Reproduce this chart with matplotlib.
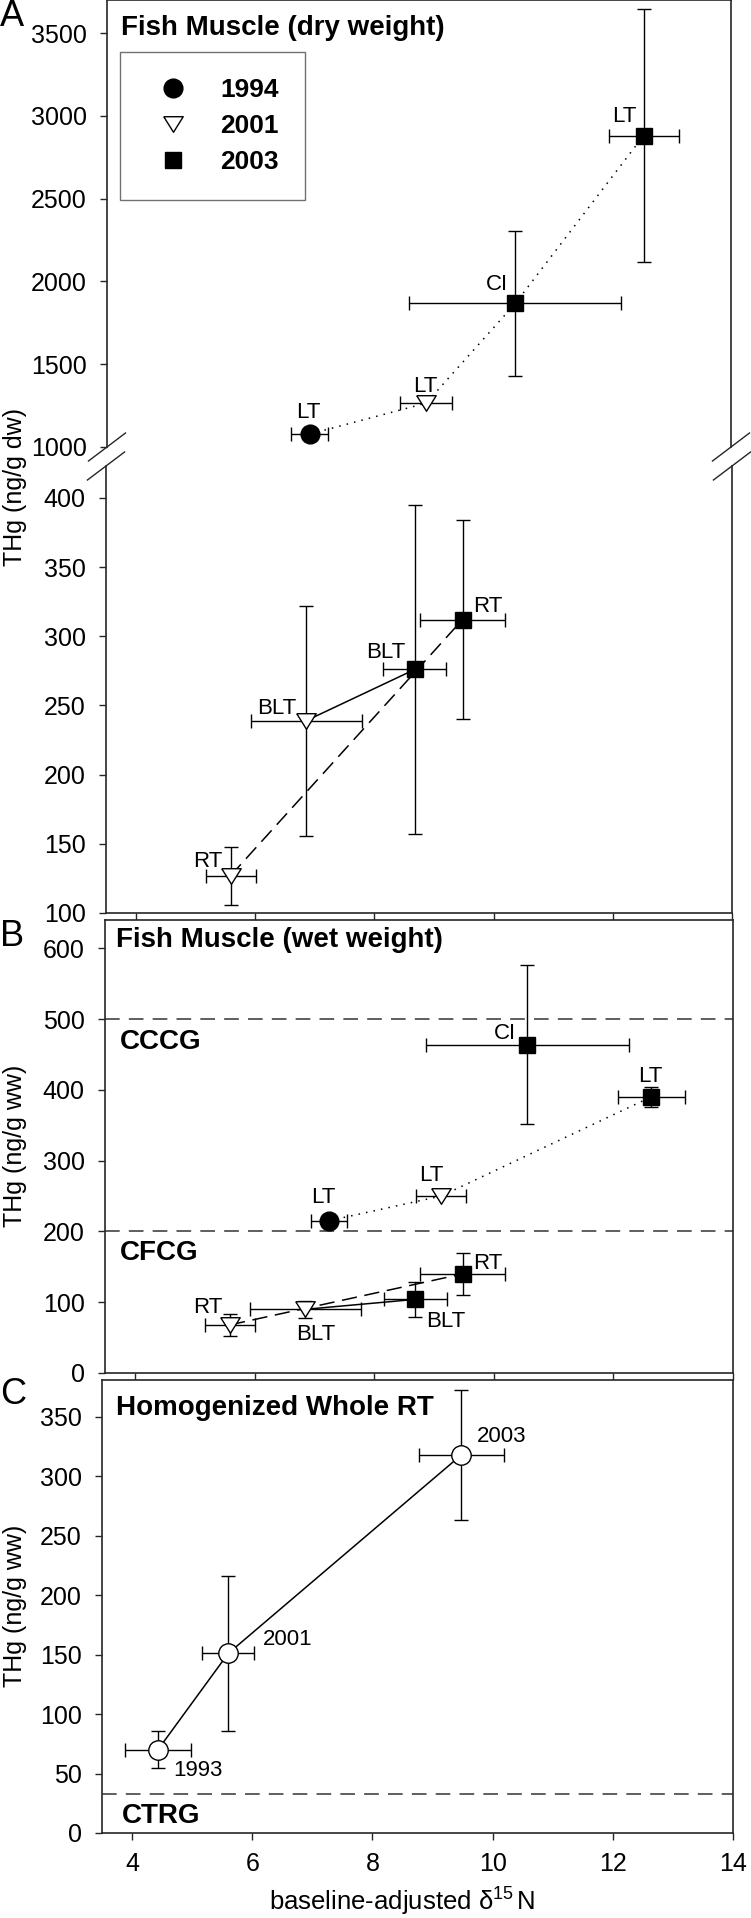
import numpy as np
import matplotlib
matplotlib.use('Agg')
import matplotlib.pyplot as plt

plt.rcParams['font.family'] = ['Liberation Sans', 'DejaVu Sans']
plt.rcParams['mathtext.fontset'] = 'custom'
plt.rcParams['mathtext.rm'] = 'Liberation Sans'
plt.rcParams['mathtext.it'] = 'Liberation Sans:italic'

nan = np.nan

# A: fish muscle, dry weight (upper part of broken axis)
a_up_x = [6.91, 8.87, 10.37, 12.53]
a_up_y = [1078, 1265, 1867, 2881]
a_up_xerr = [0.31, 0.44, 1.78, 0.59]
a_up_yerr = [nan, nan, 440, 762]
a_up_year = ['1994', '2001', '2003', '2003']
a_up_lab = ['LT', 'LT', 'CI', 'LT']

# A: lower part of broken axis
a_lo_x = [5.59, 6.86, 8.68, 9.48]
a_lo_y = [127, 239, 276, 312]
a_lo_xerr = [0.42, 0.93, 0.53, 0.71]
a_lo_yerr = [21, 83, 119, 72]
a_lo_year = ['2001', '2001', '2003', '2003']
a_lo_lab = ['RT', 'BLT', 'BLT', 'RT']

# B: fish muscle, wet weight
b_x = [7.24, 9.12, 10.56, 12.63, 5.59, 6.85, 8.69, 9.48]
b_y = [215, 250, 464, 390, 68, 90, 104, 140]
b_xerr = [0.30, 0.42, 1.70, 0.56, 0.42, 0.93, 0.52, 0.71]
b_yerr = [nan, nan, 112, 14, 16, 12, 25, 30]
b_year = ['1994', '2001', '2003', '2003', '2001', '2001', '2003', '2003']
b_lab = ['LT', 'LT', 'CI', 'LT', 'RT', 'BLT', 'BLT', 'RT']
b_guides = [500, 200]
b_guide_names = ['CCCG', 'CFCG']

# C: homogenized whole RT
c_x = [4.43, 5.60, 9.48]
c_y = [70, 151, 318]
c_xerr = [0.55, 0.43, 0.71]
c_yerr = [15.5, 65, 55]
c_lab = ['1993', '2001', '2003']
c_guide = 33
c_guide_name = 'CTRG'

years = ['1994', '2001', '2003']
x_ticks = [4, 6, 8, 10, 12, 14]

# label offsets (points)
a_up_off = [(-0.7, 15.8), (-0.7, 12.2), (-13, 13.7), (-13.7, 13.7)]
a_lo_off = [(-16.6, 10), (-21, 8.6), (-21, 12.2), (18.4, 9.4)]
b_off = [(-3.6, 16.6), (-7.2, 15), (-15.8, 8), (-0.7, 15), (-15.8, 12.2),
         (7.2, -18), (21.6, -15.8), (18, 7.2)]
c_off = [(28.8, -15), (42.5, 10), (28.8, 13)]

tri = [(-1, 0.8), (1, 0.8), (0, -0.8), (-1, 0.8)]
yr_style = {'1994': ('o', 'black', 13.5),
            '2001': (tri, 'white', 14),
            '2003': ('s', 'black', 12),
            'open': ('o', 'white', 14)}

W, H = 751, 1918
fig = plt.figure(figsize=(W / 100, H / 100), dpi=100)


def rect(l, t, r, b):
    return [l / W, 1 - b / H, (r - l) / W, (b - t) / H]


ax_a1 = fig.add_axes(rect(107, 0, 731, 447))
ax_a2 = fig.add_axes(rect(106, 466, 732, 913))
ax_b = fig.add_axes(rect(105, 920, 733, 1373))
ax_c = fig.add_axes(rect(102, 1380, 733, 1833))

for ax in [ax_a1, ax_a2, ax_b, ax_c]:
    for s in ax.spines.values():
        s.set_color('0.15')
        s.set_linewidth(1.2)
    ax.set_xlim(3.5, 14)
    ax.set_xticks(x_ticks)
    ax.tick_params(direction='out', length=5, width=1, color='0.15', labelsize=18)
    ax.tick_params(axis='y', pad=9.5)
    ax.tick_params(axis='x', pad=9)

ax_a1.set_ylim(1000, 3700)
ax_a1.set_yticks([1000, 1500, 2000, 2500, 3000, 3500])
ax_a1.spines['bottom'].set_visible(False)
ax_a1.tick_params(axis='x', bottom=False, labelbottom=False)
ax_a2.set_ylim(100, 423)
ax_a2.set_yticks([100, 150, 200, 250, 300, 350, 400])
ax_a2.spines['top'].set_visible(False)
ax_a2.tick_params(axis='x', labelbottom=False)
ax_b.set_ylim(0, 640)
ax_b.set_yticks([0, 100, 200, 300, 400, 500, 600])
ax_b.tick_params(axis='x', labelbottom=False)
ax_c.set_ylim(0, 381)
ax_c.set_yticks([0, 50, 100, 150, 200, 250, 300, 350])


def draw_points(ax, xs, ys, xerr, yerr, yrs, labs, offs):
    for x, y, ex, ey, yr, lab, off in zip(xs, ys, xerr, yerr, yrs, labs, offs):
        m, fc, ms = yr_style[yr]
        ax.errorbar(x, y, xerr=ex, yerr=None if np.isnan(ey) else ey, fmt='none',
                    ecolor='black', elinewidth=1, capsize=4.7, capthick=1, zorder=2)
        ax.plot(x, y, marker=m, ms=ms, mfc=fc, mec='black', mew=1, ls='none', zorder=4)
        ax.annotate(lab, (x, y), xytext=off, textcoords='offset points',
                    ha='center', va='center', fontsize=16)


def connect(ax, xs, ys, idx, ls):
    ax.plot([xs[i] for i in idx], [ys[i] for i in idx], ls=ls, color='black', lw=1.1, zorder=3)


dotted = (0, (1, 4))
dashed = (0, (10, 5))

# panel A
connect(ax_a1, a_up_x, a_up_y, [0, 1, 2, 3], dotted)
draw_points(ax_a1, a_up_x, a_up_y, a_up_xerr, a_up_yerr, a_up_year, a_up_lab, a_up_off)
connect(ax_a2, a_lo_x, a_lo_y, [1, 2], '-')
connect(ax_a2, a_lo_x, a_lo_y, [0, 3], dashed)
draw_points(ax_a2, a_lo_x, a_lo_y, a_lo_xerr, a_lo_yerr, a_lo_year, a_lo_lab, a_lo_off)

ax_a1.text(0.022, 0.937, 'Fish Muscle (dry weight)', transform=ax_a1.transAxes,
           fontsize=20, fontweight='bold', va='center', ha='left')
handles = []
for yr in years:
    m, fc, ms = yr_style[yr]
    handles.append(plt.Line2D([], [], marker=m, ms=ms, mfc=fc, mec='black', mew=1, ls='none'))
leg = ax_a1.legend(handles, years, loc='upper left', bbox_to_anchor=(0.021, 0.884),
                   prop={'weight': 'bold', 'size': 19}, frameon=True, fancybox=False,
                   borderpad=1.0, labelspacing=0.45, handlelength=2.0, handletextpad=0.8,
                   borderaxespad=0)
leg.get_frame().set_edgecolor('0.3')
leg.get_frame().set_linewidth(1)

# break marks
dx, dy = 18.5 / 624, 14 / 447
for xx in [0, 1]:
    ax_a1.plot([xx - dx, xx + dx], [-dy, dy], transform=ax_a1.transAxes, color='0.15', lw=1, clip_on=False)
    ax_a2.plot([xx - dx, xx + dx], [1 - dy, 1 + dy], transform=ax_a2.transAxes, color='0.15', lw=1, clip_on=False)

# panel B
for g in b_guides:
    ax_b.axhline(g, color='0.2', lw=1.1, ls=(0, (9.6, 6)), zorder=1)
connect(ax_b, b_x, b_y, [0, 1, 3], dotted)
connect(ax_b, b_x, b_y, [5, 6], '-')
connect(ax_b, b_x, b_y, [4, 7], dashed)
draw_points(ax_b, b_x, b_y, b_xerr, b_yerr, b_year, b_lab, b_off)
ax_b.text(0.018, 0.956, 'Fish Muscle (wet weight)', transform=ax_b.transAxes,
          fontsize=20, fontweight='bold', va='center', ha='left')
ax_b.text(0.024, 0.731, b_guide_names[0], transform=ax_b.transAxes,
          fontsize=20, fontweight='bold', va='center', ha='left')
ax_b.text(0.024, 0.265, b_guide_names[1], transform=ax_b.transAxes,
          fontsize=20, fontweight='bold', va='center', ha='left')

# panel C
ax_c.axhline(c_guide, color='0.2', lw=1.1, ls=(0, (9.6, 6)), zorder=1)
connect(ax_c, c_x, c_y, [0, 1, 2], '-')
draw_points(ax_c, c_x, c_y, c_xerr, c_yerr, ['open'] * 3, c_lab, c_off)
ax_c.text(0.022, 0.938, 'Homogenized Whole RT', transform=ax_c.transAxes,
          fontsize=20, fontweight='bold', va='center', ha='left')
ax_c.text(0.032, 0.0375, c_guide_name, transform=ax_c.transAxes,
          fontsize=20, fontweight='bold', va='center', ha='left')
ax_c.set_xlabel(r'baseline-adjusted $\mathregular{\delta^{15}\,}$N', fontsize=18.5)
ax_c.xaxis.set_label_coords(0.476, -0.117)

# y labels and panel letters
fig.text(15 / W, 1 - 487 / H, 'THg (ng/g dw)', rotation=90, fontsize=18, ha='center', va='center')
fig.text(15 / W, 1 - 1146 / H, 'THg (ng/g ww)', rotation=90, fontsize=18, ha='center', va='center')
fig.text(15 / W, 1 - 1606 / H, 'THg (ng/g ww)', rotation=90, fontsize=18, ha='center', va='center')
fig.text(0, 1 - 16 / H, 'A', fontsize=26, ha='left', va='center')
fig.text(0, 1 - 937 / H, 'B', fontsize=26, ha='left', va='center')
fig.text(0, 1 - 1395 / H, 'C', fontsize=26, ha='left', va='center')

fig.savefig('out.png', dpi=100)
